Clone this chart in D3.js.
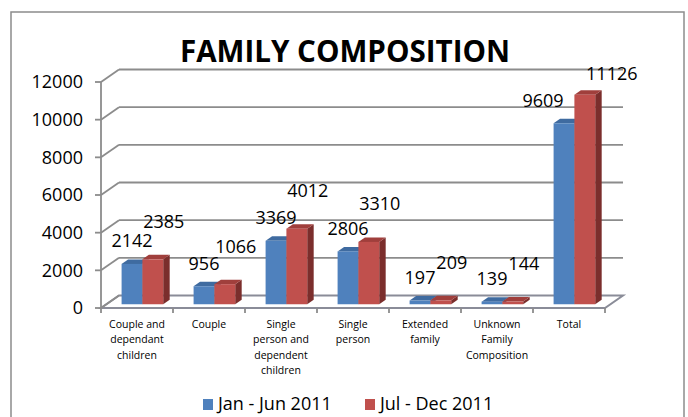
<!DOCTYPE html>
<html>
<head>
<meta charset="utf-8">
<script src="https://cdn.jsdelivr.net/npm/d3@7"></script>
<style>
  body { margin: 0; background: #fff; }
  text { font-family: 'Open Sans', sans-serif; fill: #000; }
</style>
</head>
<body>
<script>
const width = 688;
const height = 417;

const categories = [
  ['Couple and', 'dependant', 'children'],
  ['Couple'],
  ['Single', 'person and', 'dependent', 'children'],
  ['Single', 'person'],
  ['Extended', 'family'],
  ['Unknown', 'Family', 'Composition'],
  ['Total']
];
const seriesNames = ['Jan - Jun 2011', 'Jul - Dec 2011'];
const janJun = [2142, 956, 3369, 2806, 197, 139, 9609];
const julDec = [2385, 1066, 4012, 3310, 209, 144, 11126];
const yTicks = [0, 2000, 4000, 6000, 8000, 10000, 12000];

const colors = [
  { front: '#4f81bd', top: '#3f6ba0', side: '#2f5381' },
  { front: '#c0504d', top: '#a03f3c', side: '#7b2e2c' }
];

const svg = d3.select('body').append('svg')
  .attr('width', width)
  .attr('height', height);

// outer frame (runs off the bottom)
svg.append('rect')
  .attr('x', 11).attr('y', 12)
  .attr('width', 673).attr('height', 420)
  .attr('fill', 'none')
  .attr('stroke', '#8c8c8c')
  .attr('stroke-width', 1.5);

svg.append('text')
  .attr('x', 345).attr('y', 62)
  .attr('text-anchor', 'middle')
  .attr('font-size', 31)
  .attr('font-weight', 'bold')
  .attr('textLength', 330)
  .attr('lengthAdjust', 'spacingAndGlyphs')
  .text('FAMILY COMPOSITION');

const x0 = d3.scaleBand()
  .domain(d3.range(categories.length))
  .range([101, 605])
  .paddingInner(0.422)
  .paddingOuter(0.211);

const step = x0.step();
const xs = x0.copy().padding(0).range([101, 605]);

const x1 = d3.scaleBand()
  .domain([0, 1])
  .range([0, x0.bandwidth()]);

const y = d3.scaleLinear()
  .domain([0, 12000])
  .range([308, 82]);

// depth of the plot box
const depth = { dx: 18, dy: -12.5 };
const f0 = 0.3, f1 = 0.66;

const grid = svg.append('g')
  .attr('stroke', '#8c8c8c')
  .attr('stroke-width', 1.8)
  .attr('fill', 'none');

// floor
grid.append('path')
  .attr('fill', '#fff')
  .attr('stroke', '#8a8c98')
  .attr('stroke-width', 2)
  .attr('d', d3.line()([
    [101, y(0)], [605, y(0)],
    [605 + depth.dx, y(0) + depth.dy], [101 + depth.dx, y(0) + depth.dy]
  ]) + 'Z');

yTicks.forEach(t => {
  const yy = y(t);
  if (t > 0) {
    grid.append('line')
      .attr('x1', 101 + depth.dx).attr('x2', 605 + depth.dx)
      .attr('y1', yy + depth.dy).attr('y2', yy + depth.dy);
  }
  grid.append('line')
    .attr('x1', 101).attr('x2', 101 + depth.dx)
    .attr('y1', yy).attr('y2', yy + depth.dy);
  grid.append('line')
    .attr('x1', 95).attr('x2', 101)
    .attr('y1', yy).attr('y2', yy);
});

grid.append('line')
  .attr('x1', 101).attr('x2', 101)
  .attr('y1', y(12000)).attr('y2', y(0));

// category ticks on front floor edge
d3.range(categories.length + 1).forEach(i => {
  const xx = 101 + i * step;
  grid.append('line')
    .attr('x1', xx).attr('x2', xx)
    .attr('y1', y(0)).attr('y2', y(0) + 5);
});

svg.append('g')
  .selectAll('text')
  .data(yTicks)
  .join('text')
    .attr('x', 83)
    .attr('y', d => y(d))
    .attr('dy', '0.36em')
    .attr('text-anchor', 'end')
    .attr('font-size', 18)
    .text(d => d);

// bars
const bx = f0 * depth.dx, by = f0 * depth.dy;
const ddx = (f1 - f0) * depth.dx, ddy = (f1 - f0) * depth.dy;
const bars = svg.append('g');

const rows = [];
janJun.forEach((v, i) => {
  rows.push({ i, s: 0, v });
  rows.push({ i, s: 1, v: julDec[i] });
});

rows.forEach(d => {
  const xl = x0(d.i) + x1(d.s) + bx;
  const w = x1.bandwidth();
  const yb = y(0) + by;
  const yt = y(d.v) + by;
  const c = colors[d.s];
  const g = bars.append('g');
  g.append('path')
    .attr('fill', c.side)
    .attr('d', d3.line()([[xl + w, yt], [xl + w + ddx, yt + ddy], [xl + w + ddx, yb + ddy], [xl + w, yb]]) + 'Z');
  g.append('path')
    .attr('fill', c.top)
    .attr('d', d3.line()([[xl, yt], [xl + w, yt], [xl + w + ddx, yt + ddy], [xl + ddx, yt + ddy]]) + 'Z');
  g.append('rect')
    .attr('x', xl).attr('y', yt)
    .attr('width', w).attr('height', yb - yt)
    .attr('fill', c.front);
  d.cx = xl + w / 2;
  d.top = yt;
});

// value labels, offset the way the 3D chart places them
function labelPos(d) {
  const last = d.i === categories.length - 1;
  if (d.s === 0) return [d.cx + (last ? -21 : 0), d.top - 23];
  return [d.cx + (last ? 27 : 11), d.top - (last ? 21 : 38)];
}

svg.append('g')
  .selectAll('text')
  .data(rows)
  .join('text')
    .attr('x', d => labelPos(d)[0])
    .attr('y', d => labelPos(d)[1])
    .attr('dy', '0.36em')
    .attr('text-anchor', 'middle')
    .attr('font-size', 18)
    .text(d => d.v);

// category labels
svg.append('g')
  .selectAll('text')
  .data(categories)
  .join('text')
    .attr('x', (d, i) => xs(i) + step / 2)
    .attr('y', 328)
    .attr('text-anchor', 'middle')
    .attr('font-size', 10.5)
  .selectAll('tspan')
  .data(d => d)
  .join('tspan')
    .attr('x', function () { return this.parentNode.getAttribute('x'); })
    .attr('dy', (d, j) => j === 0 ? 0 : 15.3)
    .text(d => d);

// legend
const legend = svg.append('g');
const legendX = [203, 365];
seriesNames.forEach((name, i) => {
  legend.append('rect')
    .attr('x', legendX[i]).attr('y', 399)
    .attr('width', 10).attr('height', 11)
    .attr('fill', colors[i].front);
  legend.append('text')
    .attr('x', legendX[i] + 15).attr('y', 410)
    .attr('font-size', 18)
    .text(name);
});
</script>
</body>
</html>
